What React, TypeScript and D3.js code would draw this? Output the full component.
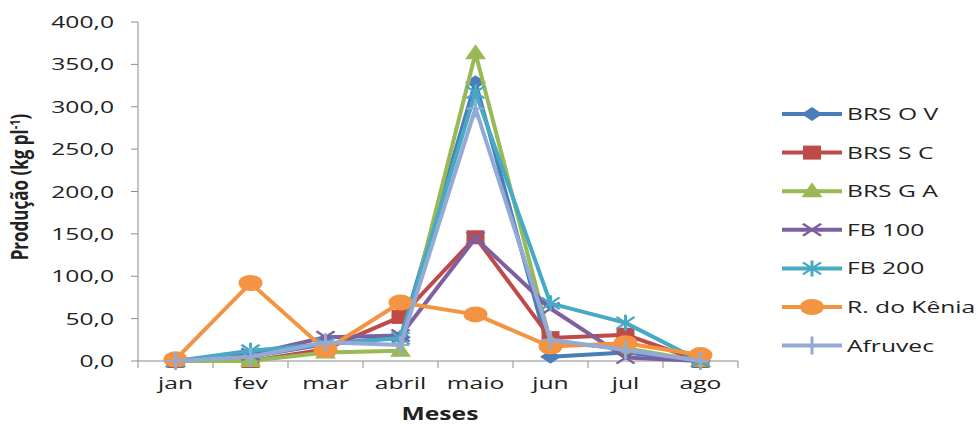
import React from "react";
import * as d3 from "d3";

const months = ["jan", "fev", "mar", "abril", "maio", "jun", "jul", "ago"];
const yTicks = [0, 50, 100, 150, 200, 250, 300, 350, 400];
const seriesNames = ["BRS O V", "BRS S C", "BRS G A", "FB 100", "FB 200", "R. do Kênia", "Afruvec"];
const brsOV = [0, 5, 20, 28, 329, 5, 10, 0];
const brsSC = [0, 0, 14, 52, 146, 27, 31, 0];
const brsGA = [0, 0, 10, 12, 363, 22, 15, 0];
const fb100 = [0, 8, 28, 30, 145, 62, 4, 0];
const fb200 = [0, 12, 20, 27, 317, 68, 45, 0];
const rKenia = [2, 92, 13, 69, 55, 17, 21, 7];
const afruvec = [0, 5, 22, 19, 298, 25, 13, 0];

const seriesValues = [brsOV, brsSC, brsGA, fb100, fb200, rKenia, afruvec];
const colors = ["#4A7EBB", "#BE4B48", "#98B954", "#7D60A0", "#46AAC5", "#F39443", "#93A9D6"];
const markers = ["diamond", "square", "triangle", "x", "star", "circle", "plus"];

const FONT = "'Open Sans', 'Liberation Sans', sans-serif";
const SX = 1.45;

function Marker({ type, color, x, y }: { type: string; color: string; x: number; y: number }) {
  const t = `translate(${x},${y}) scale(1.5,1)`;
  switch (type) {
    case "diamond":
      return <path transform={t} d="M0,-7L7,0L0,7L-7,0Z" fill={color} />;
    case "square":
      return <rect transform={t} x={-6} y={-7} width={12} height={14} fill={color} />;
    case "triangle":
      return <path transform={t} d="M0,-9L7,6L-7,6Z" fill={color} />;
    case "x":
      return <path transform={t} d="M-6,-6L6,6M-6,6L6,-6" stroke={color} strokeWidth={2} fill="none" />;
    case "star":
      return <path transform={t} d="M-6,-6L6,6M-6,6L6,-6M0,-8L0,8" stroke={color} strokeWidth={2} fill="none" />;
    case "circle":
      return <circle transform={t} r={8} fill={color} />;
    case "plus":
      return <path transform={t} d="M0,-9L0,9M-6,0L6,0" stroke={color} strokeWidth={2} fill="none" />;
  }
  return null;
}

function SText({ x, y, anchor, children, size = 17, weight = "normal" }: any) {
  return (
    <g transform={`translate(${x},${y}) scale(${SX},1)`}>
      <text x={0} y={0} textAnchor={anchor} fontFamily={FONT} fontSize={size} fontWeight={weight} fill="#222">
        {children}
      </text>
    </g>
  );
}

export default function App() {
  const W = 978, H = 430;
  const x = d3.scaleBand().domain(months).range([138, 738]);
  const y = d3.scaleLinear().domain([0, 400]).range([361, 22]);
  const cx = (m: string) => (x(m) as number) + x.bandwidth() / 2;
  const line = d3.line<number>().x((_, i) => cx(months[i])).y((v) => y(v));
  const boundaries = d3.range(months.length + 1).map((i) => 138 + i * x.bandwidth());

  const legendY0 = 114;
  const legendStep = 38.6;

  return (
    <svg width={W} height={H} style={{ position: "absolute", left: 0, top: 0, background: "#fff" }}>
      <rect width={W} height={H} fill="#fff" />
      {/* axes */}
      <line x1={138} x2={138} y1={22} y2={361} stroke="#8c8c8c" strokeWidth={1} />
      <line x1={138} x2={738} y1={361} y2={361} stroke="#8c8c8c" strokeWidth={1} />
      {yTicks.map((t) => (
        <g key={t}>
          <line x1={131} x2={138} y1={y(t)} y2={y(t)} stroke="#8c8c8c" />
          <SText x={114} y={y(t) + 6} anchor="end">
            {d3.format(".1f")(t).replace(".", ",")}
          </SText>
        </g>
      ))}
      {boundaries.map((b, i) => (
        <line key={i} x1={b} x2={b} y1={361} y2={368} stroke="#8c8c8c" />
      ))}
      {months.map((m) => (
        <SText key={m} x={cx(m)} y={389} anchor="middle">
          {m}
        </SText>
      ))}
      <SText x={440} y={420} anchor="middle" weight="bold">
        Meses
      </SText>
      <g transform={`translate(28,187) rotate(-90)`}>
        <text x={0} y={0} textAnchor="middle" fontFamily={FONT} fontSize={17} fontWeight="bold" fill="#222" transform="scale(1,1.35)">
          Produção (kg pl
          <tspan fontSize={11} dy={-6}>-1</tspan>
          <tspan dy={6}>)</tspan>
        </text>
      </g>
      {/* series */}
      {seriesValues.map((vals, si) => (
        <g key={si}>
          <path d={line(vals) as string} fill="none" stroke={colors[si]} strokeWidth={4} strokeLinejoin="round" />
          {vals.map((v, i) => (
            <Marker key={i} type={markers[si]} color={colors[si]} x={cx(months[i])} y={y(v)} />
          ))}
        </g>
      ))}
      {/* legend */}
      {seriesNames.map((n, si) => {
        const ly = legendY0 + si * legendStep;
        return (
          <g key={n}>
            <line x1={782} x2={842} y1={ly} y2={ly} stroke={colors[si]} strokeWidth={4} />
            <Marker type={markers[si]} color={colors[si]} x={812} y={ly} />
            <SText x={847} y={ly + 6} anchor="start">
              {n}
            </SText>
          </g>
        );
      })}
    </svg>
  );
}
